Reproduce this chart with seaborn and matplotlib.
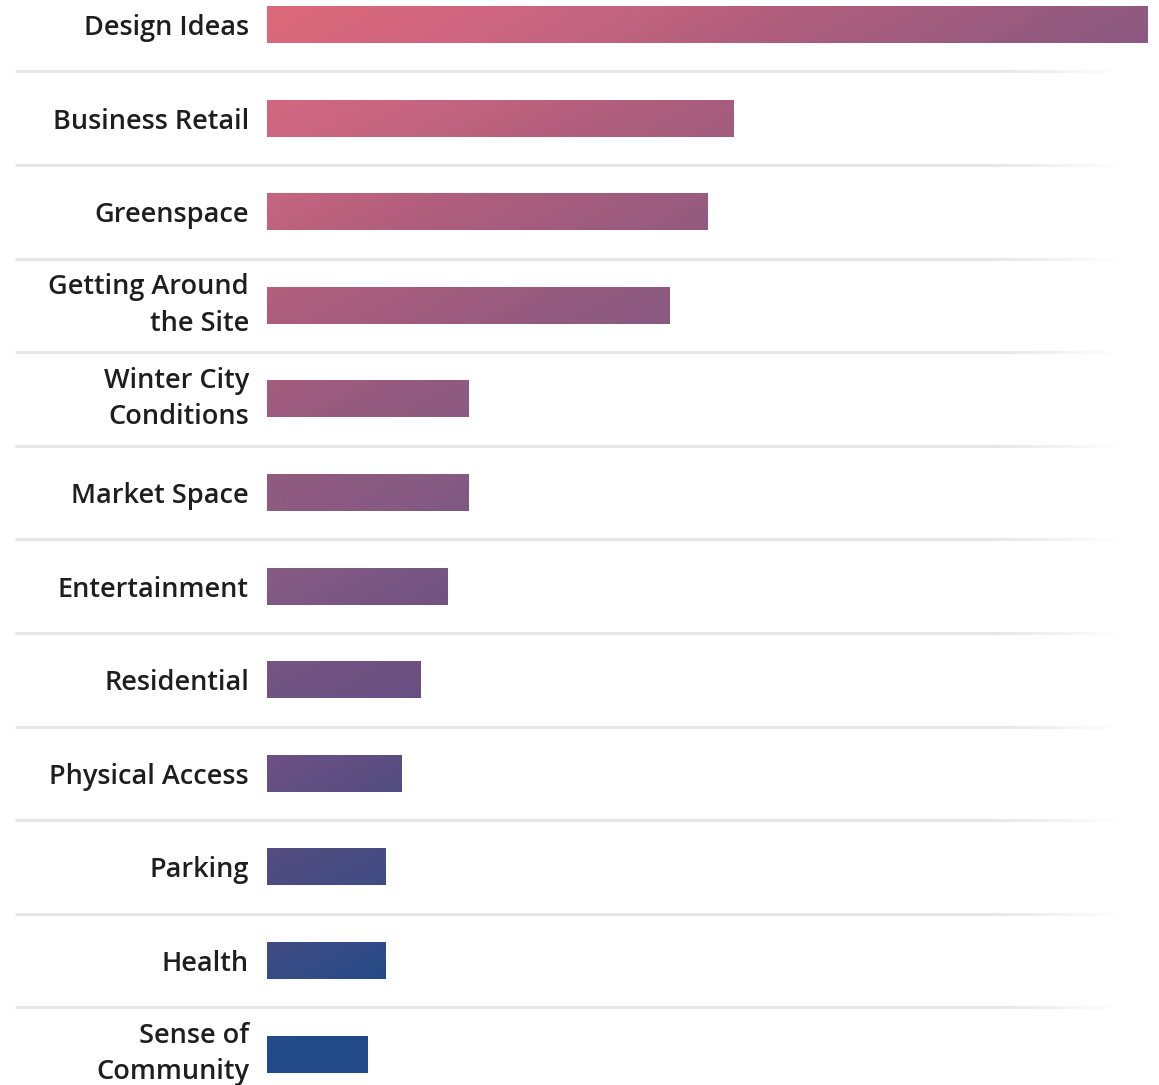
import matplotlib
matplotlib.use("Agg")
import matplotlib.pyplot as plt
import matplotlib.transforms as mtransforms
from matplotlib.collections import LineCollection
from matplotlib.colors import LinearSegmentedColormap
import numpy as np
import pandas as pd
import seaborn as sns

# data (share of the largest topic, %)
topics = ["Design Ideas", "Business Retail", "Greenspace", "Getting Around\nthe Site",
          "Winter City\nConditions", "Market Space", "Entertainment", "Residential",
          "Physical Access", "Parking", "Health", "Sense of\nCommunity"]
share = [100, 53, 50, 45.7, 22.9, 22.9, 20.5, 17.4, 15.3, 13.4, 13.4, 11.4]

# colour of the gradient at the left end of each bar
left_colors = ["#dc6a7a", "#d16680", "#c26480", "#b05e7c", "#a05c7e", "#905a80",
               "#855a84", "#735482", "#6a5084", "#514c80", "#3d4c84", "#234a88"]

sns.set_theme(style="white")
plt.rcParams["font.family"] = ["Open Sans", "DejaVu Sans"]

df = pd.DataFrame({"topic": topics, "share": share})

fig = plt.figure(figsize=(11.59, 10.85), dpi=100)
ax = fig.add_axes([267 / 1159, -0.0146, 881 / 1159, 1.035])

sns.barplot(data=df, x="share", y="topic", orient="h", width=0.395,
            color="#999999", ax=ax, linewidth=0)

# diagonal gradient shared by all bars
k = 1.8
row_h = 93.6
t_stops = [k * (i * row_h + 18.5) for i in range(len(topics))]
tmax = t_stops[-1]
cmap = LinearSegmentedColormap.from_list(
    "g", [(t / tmax, c) for t, c in zip([0] + t_stops[1:], left_colors)])
H, W = 1123, 881
rr, cc = np.mgrid[0:H, 0:W]
t = (cc + k * (rr - 28)) / tmax
img = cmap(np.clip(t, 0, 1))
for bar in ax.patches:
    bar.set_facecolor("none")
    im = ax.imshow(img, extent=[0, 1, 0, 1], transform=ax.transAxes,
                   aspect="auto", interpolation="bilinear", zorder=2)
    im.set_clip_path(bar)
ax.set_xlim(0, 100)
ax.set_ylim(len(topics) - 0.5, -0.5)

# separator lines, fading out on the right
trans = mtransforms.blended_transform_factory(ax.transAxes, ax.transData)
x0, xs, x1 = -0.286, 0.83, 0.968
lw = 2.2
for i in range(len(topics) - 1):
    y = i + 0.5
    ax.plot([x0, xs], [y, y], color="#e6e6e6", lw=lw, transform=trans,
            clip_on=False, solid_capstyle="butt", zorder=1)
    xx = np.linspace(xs, x1, 40)
    segs = [[(xx[j], y), (xx[j + 1], y)] for j in range(len(xx) - 1)]
    alphas = np.linspace(1, 0, len(segs))
    cols = [(0.902, 0.902, 0.902, a) for a in alphas]
    lc = LineCollection(segs, colors=cols, linewidths=lw, transform=trans,
                        clip_on=False, zorder=1)
    ax.add_collection(lc)

ax.set_xlabel("")
ax.set_ylabel("")
ax.set_xticks([])
ax.tick_params(axis="y", length=0, pad=13)
for lab in ax.get_yticklabels():
    lab.set_fontsize(19.5)
    lab.set_color("#1e1e1e")
    lab.set_fontweight("semibold")
    lab.set_linespacing(1.42)
    if "\n" in lab.get_text():
        lab.set_verticalalignment("center")
    else:
        lab.set_verticalalignment("center_baseline")
sns.despine(ax=ax, left=True, bottom=True)

fig.savefig("out.png", dpi=100)
